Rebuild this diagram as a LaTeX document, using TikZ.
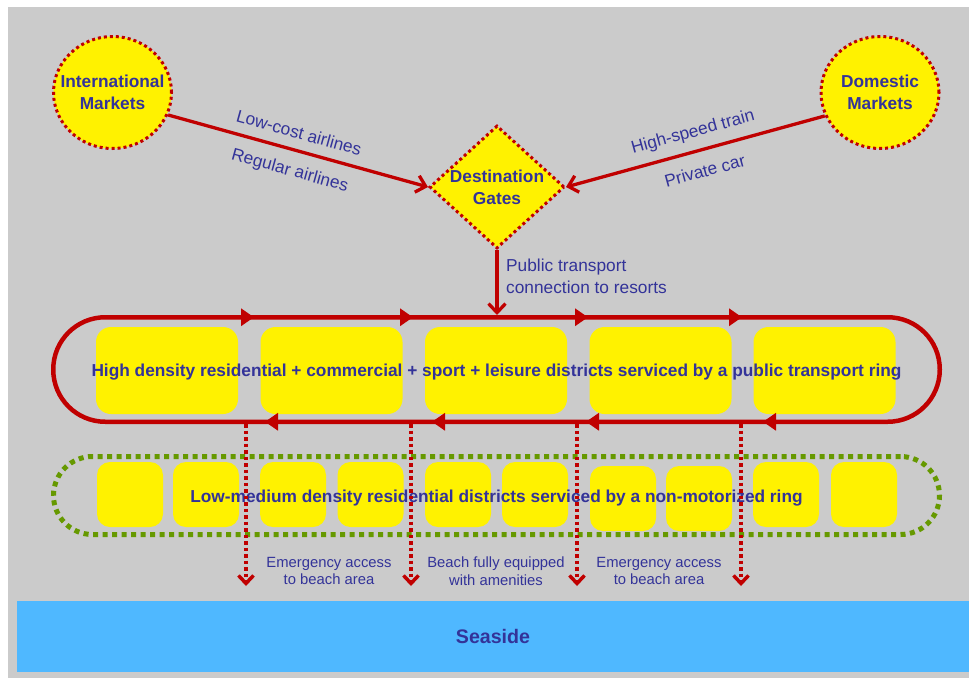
\documentclass[tikz,border=0pt]{standalone}
\usepackage{fontspec}
\setmainfont{Liberation Sans}
\usetikzlibrary{arrows.meta,shapes.geometric}
\definecolor{ringred}{HTML}{C00000}
\definecolor{txtblue}{HTML}{333399}
\definecolor{seablue}{HTML}{4FB8FF}
\definecolor{bggray}{HTML}{CBCBCB}
\definecolor{leafgreen}{HTML}{669900}

\begin{document}
\begin{tikzpicture}[x=1pt,y=-1pt,
	big/.style={text=txtblue,font=\fontsize{17.3}{21.7}\selectfont\bfseries},
	lbl/.style={text=txtblue,font=\fontsize{17.3}{21.7}\selectfont,inner sep=0pt},
	note/.style={text=txtblue,font=\fontsize{14.8}{17.7}\selectfont,align=center,inner sep=0pt},
	market/.style={big,ellipse,draw=ringred,fill=yellow,line width=3pt,dash pattern=on 3pt off 3pt,
		minimum width=118pt,minimum height=112pt,inner sep=-14pt,align=center},
	gate/.style={big,diamond,aspect=1.1,draw=ringred,fill=yellow,line width=3pt,dash pattern=on 3pt off 3pt,
		minimum width=135pt,minimum height=123pt,inner sep=0pt,align=center},
	feed/.style={draw=ringred,line width=3.3pt,-{Straight Barb[length=9pt,width=17pt]}},
	district/.style={fill=yellow,rounded corners=15pt,inner sep=0pt},
	ring/.style={rectangle,inner sep=0pt},
	ringtip/.style={draw=ringred,line width=4.5pt,-{Triangle[length=13pt,width=17pt]}},
	drop/.style={draw=ringred,line width=3.5pt,dash pattern=on 3.5pt off 3pt,-{Straight Barb[length=8pt,width=15pt]}}]

	\fill[bggray] (8,7) rectangle (969,678);
	\useasboundingbox (0,0) rectangle (969,678);

	\node[market] (I) at (112.5,92.5) {International\\Markets};
	\node[market] (D) at (880,92.5) {Domestic\\Markets};
	\node[gate] (G) at (497,187) {Destination\\Gates};

	\draw[feed] (I.-22) -- node[lbl,sloped,above=10pt,pos=0.485] {Low-cost airlines}
		node[lbl,sloped,below=12pt,pos=0.49] {Regular airlines} (G.west);
	\draw[feed] (D.-157) -- node[lbl,sloped,above=9pt,pos=0.49] {High-speed train}
		node[lbl,sloped,below=13pt,pos=0.485] {Private car} (G.east);

	\foreach \x in {167,331.5,496,660.5,824.5}
		\node[district,minimum width=142pt,minimum height=87pt] at (\x,370.5) {};
	\foreach \x/\y in {130/494.5,206/494.5,293/494.5,370.5/494.5,458/494.5,
		535/494.5,623/498.5,699/498.5,786/494.5,864/494.5}
		\node[district,rounded corners=13pt,minimum width=66pt,minimum height=65pt] at (\x,\y) {};

	\node[ring,draw=ringred,line width=4.5pt,rounded corners=52pt,minimum width=886.5pt,minimum height=104.5pt]
		(R) at (496.5,369.5) {};
	\node[ring,draw=leafgreen,line width=5pt,dash pattern=on 5pt off 4.5pt,rounded corners=39pt,minimum width=886pt,minimum height=78pt]
		(N) at (496.5,495.5) {};
	\node[big] (Rt) at (496.5,372.5) {High density residential + commercial + sport + leisure districts serviced by a public transport ring};
	\node[big] (Nt) at (496.5,498.5) {Low-medium density residential districts serviced by a non-motorized ring};

	\draw[feed] (G.south) -- (G.south |- R.north);
	\node[lbl,anchor=north west,align=left] (P) at (506,259) {Public transport\\connection to resorts};

	\foreach \x in {254,413,588,742}
		\draw[ringtip] (\x-13,317.25) -- (\x,317.25);
	\foreach \x in {265,432,586,763}
		\draw[ringtip] (\x+13,421.75) -- (\x,421.75);

	\foreach \x in {246,411,577,741}
		\draw[drop] (R.south -| \x,0) -- (\x,586);

	\node[note] (E1) at (329,571) {Emergency access\\to beach area};
	\node[note] (E2) at (496,571) {Beach fully equipped\\with amenities};
	\node[note] (E3) at (659,571) {Emergency access\\to beach area};

	\node[fill=seablue,minimum width=952pt,minimum height=71pt,inner sep=0pt,text=txtblue,
		font=\fontsize{19.6}{24}\selectfont\bfseries] (S) at (493,636.5) {Seaside};
\end{tikzpicture}
\end{document}
